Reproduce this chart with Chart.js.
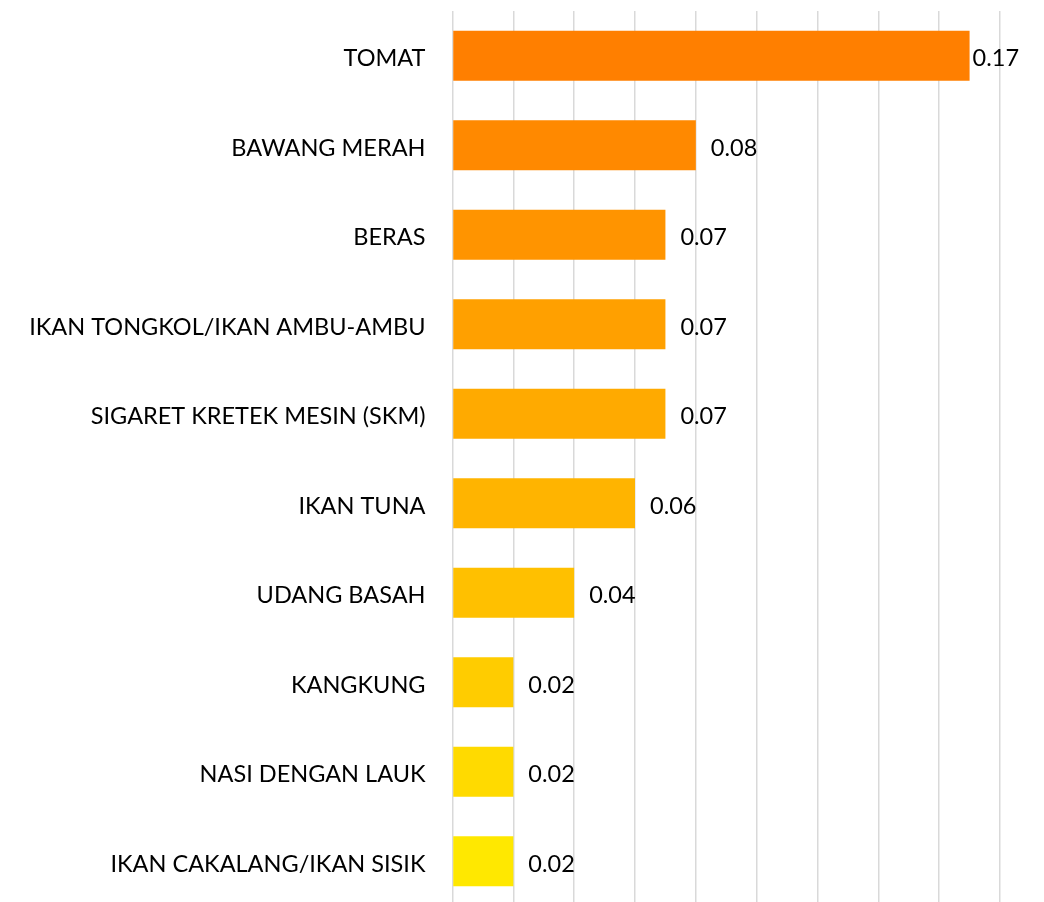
<!DOCTYPE html>
<html>
<head>
<meta charset="utf-8">
<script src="https://cdn.jsdelivr.net/npm/chart.js@4"></script>
<style>
    html, body { margin: 0; padding: 0; background: #fff; overflow: hidden; }
    #barKomoditas { display: block; }
</style>
</head>
<body>
<canvas id="barKomoditas" width="1044" height="906"></canvas>
<script>
// data
const komoditas = [
    'TOMAT',
    'BAWANG MERAH',
    'BERAS',
    'IKAN TONGKOL/IKAN AMBU-AMBU',
    'SIGARET KRETEK MESIN (SKM)',
    'IKAN TUNA',
    'UDANG BASAH',
    'KANGKUNG',
    'NASI DENGAN LAUK',
    'IKAN CAKALANG/IKAN SISIK'
];
const andil = [0.17, 0.08, 0.07, 0.07, 0.07, 0.06, 0.04, 0.02, 0.02, 0.02];
const warnaBar = ['#FF7F00', '#FF8900', '#FF9400', '#FFA000', '#FFAA00', '#FFB400', '#FFC000', '#FFCC00', '#FFDA00', '#FFE800'];
const xMax = 0.18;
const xStep = 0.02;

const fontFamily = 'Lato, Carlito, Calibri, "Open Sans", sans-serif';

// label nilai di ujung bar
const labelNilai = {
    id: 'labelNilai',
    afterDatasetsDraw(chart) {
        const ctx = chart.ctx;
        const meta = chart.getDatasetMeta(0);
        ctx.save();
        ctx.font = '23.5px ' + fontFamily;
        ctx.fillStyle = '#000';
        ctx.textBaseline = 'middle';
        ctx.textAlign = 'left';
        meta.data.forEach(function(bar, i) {
            const txt = andil[i].toFixed(2);
            const w = ctx.measureText(txt).width;
            let x = bar.x + 15;
            if (x + w > chart.width - 22) x = bar.x + 3;
            ctx.fillText(txt, x, bar.y + 3);
        });
        ctx.restore();
    }
};

const chart = new Chart(document.getElementById('barKomoditas').getContext('2d'), {
    type: 'bar',
    data: {
        labels: komoditas,
        datasets: [{
            data: andil,
            backgroundColor: warnaBar,
            borderWidth: 0,
            categoryPercentage: 0.56,
            barPercentage: 1
        }]
    },
    options: {
        indexAxis: 'y',
        responsive: false,
        animation: false,
        layout: { padding: { top: 11, right: 44, bottom: 0, left: 0 } },
        plugins: {
            legend: { display: false },
            tooltip: { enabled: false }
        },
        scales: {
            x: {
                min: 0,
                max: xMax,
                ticks: { display: false, stepSize: xStep },
                border: { display: false },
                grid: { color: '#d9d9d9', lineWidth: 1.5, drawTicks: false },
                afterFit: function(scale) { scale.height = 0; }
            },
            y: {
                ticks: {
                    color: '#000',
                    padding: 27,
                    labelOffset: 3,
                    font: { family: fontFamily, size: 23.5 }
                },
                border: { display: false },
                grid: { display: false, drawTicks: false },
                afterFit: function(scale) {
                    scale.width = 452.5;
                    scale.paddingTop = 0;
                    scale.paddingBottom = 0;
                }
            }
        }
    },
    plugins: [labelNilai]
});
</script>
</body>
</html>
